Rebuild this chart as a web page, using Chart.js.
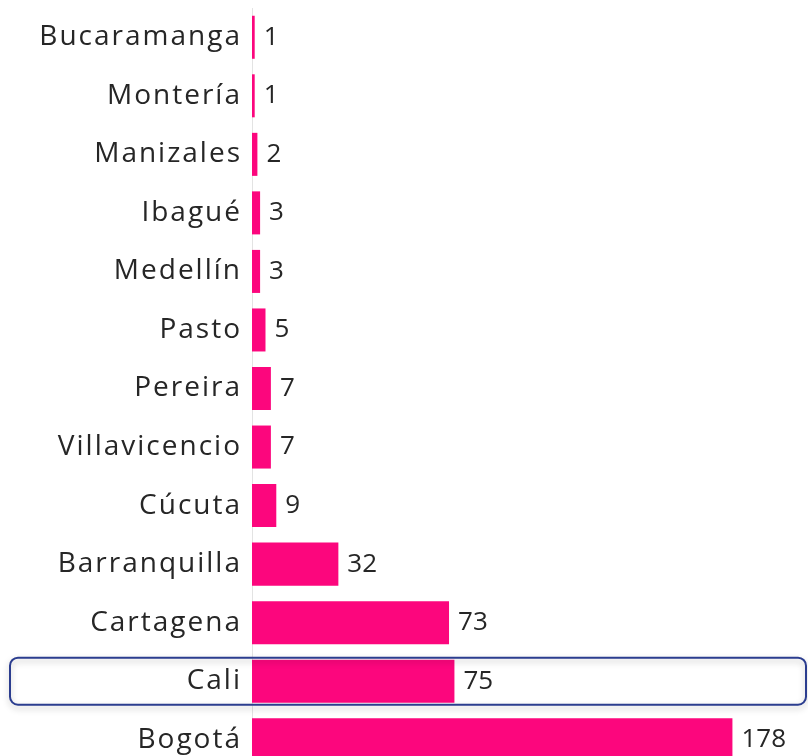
<!DOCTYPE html>
<html>
<head>
<meta charset="utf-8">
<script src="https://cdn.jsdelivr.net/npm/chart.js@4.4.1/dist/chart.umd.min.js"></script>
<style>
  html, body { margin: 0; padding: 0; background: #fff; overflow: hidden; }
  #wrap { width: 808px; height: 770px; }
</style>
</head>
<body>
<div id="wrap"><canvas id="cities" width="808" height="770"></canvas></div>
<script>
// data
var cities = ['Bucaramanga', 'Montería', 'Manizales', 'Ibagué', 'Medellín', 'Pasto', 'Pereira',
    'Villavicencio', 'Cúcuta', 'Barranquilla', 'Cartagena', 'Cali', 'Bogotá'];
var counts = [1, 1, 2, 3, 3, 5, 7, 7, 9, 32, 73, 75, 178];
var highlightCity = 'Cali';

var barColor = '#fc067d';
var textColor = '#262626';
var fontFamily = '"Open Sans", sans-serif';

// wider letter spacing for the city names
var spacing = {
    id: 'spacing',
    beforeDraw: function (chart) {
        chart.ctx.letterSpacing = '2px';
    }
};

// value labels at the end of each bar
var valueLabels = {
    id: 'valueLabels',
    afterDatasetsDraw: function (chart) {
        var ctx = chart.ctx;
        var meta = chart.getDatasetMeta(0);
        ctx.save();
        ctx.letterSpacing = '0px';
        ctx.font = '26px ' + fontFamily;
        ctx.fillStyle = textColor;
        ctx.textAlign = 'left';
        ctx.textBaseline = 'middle';
        meta.data.forEach(function (bar, i) {
            ctx.fillText(String(counts[i]), bar.x + 9, bar.y);
        });
        ctx.restore();
    }
};

// rounded box round the highlighted row
var highlightBox = {
    id: 'highlightBox',
    afterDraw: function (chart) {
        var ctx = chart.ctx;
        var idx = cities.indexOf(highlightCity);
        var y = chart.scales.y.getPixelForValue(idx);
        var x0 = 10, x1 = chart.width - 2, h = 47, r = 8;
        ctx.save();
        ctx.shadowColor = 'rgba(0,0,0,0.25)';
        ctx.shadowBlur = 6;
        ctx.shadowOffsetY = 3;
        ctx.strokeStyle = '#2b3d8f';
        ctx.lineWidth = 2;
        ctx.beginPath();
        ctx.roundRect(x0, y - h / 2, x1 - x0, h, r);
        ctx.stroke();
        ctx.restore();
    }
};

var ctx = document.getElementById('cities').getContext('2d');
var chart = new Chart(ctx, {
    type: 'bar',
    data: {
        labels: cities,
        datasets: [{
            data: counts,
            backgroundColor: barColor,
            borderWidth: 0,
            barPercentage: 0.735,
            categoryPercentage: 1
        }]
    },
    options: {
        indexAxis: 'y',
        responsive: false,
        animation: false,
        layout: { padding: { top: 8, bottom: 1, left: 0, right: 0 } },
        plugins: {
            legend: { display: false },
            tooltip: { enabled: false }
        },
        scales: {
            x: {
                display: false,
                min: 0,
                max: 206
            },
            y: {
                afterFit: function (scale) {
                    scale.width = 252;
                    // no extra room for the first / last label
                    scale.paddingTop = 0;
                    scale.paddingBottom = 0;
                },
                grid: { display: false, drawTicks: false },
                border: { display: true, color: '#e3e3e3', width: 1 },
                ticks: {
                    color: textColor,
                    padding: 10,
                    font: { family: fontFamily, size: 28 }
                }
            }
        }
    },
    plugins: [spacing, valueLabels, highlightBox]
});
</script>
</body>
</html>
